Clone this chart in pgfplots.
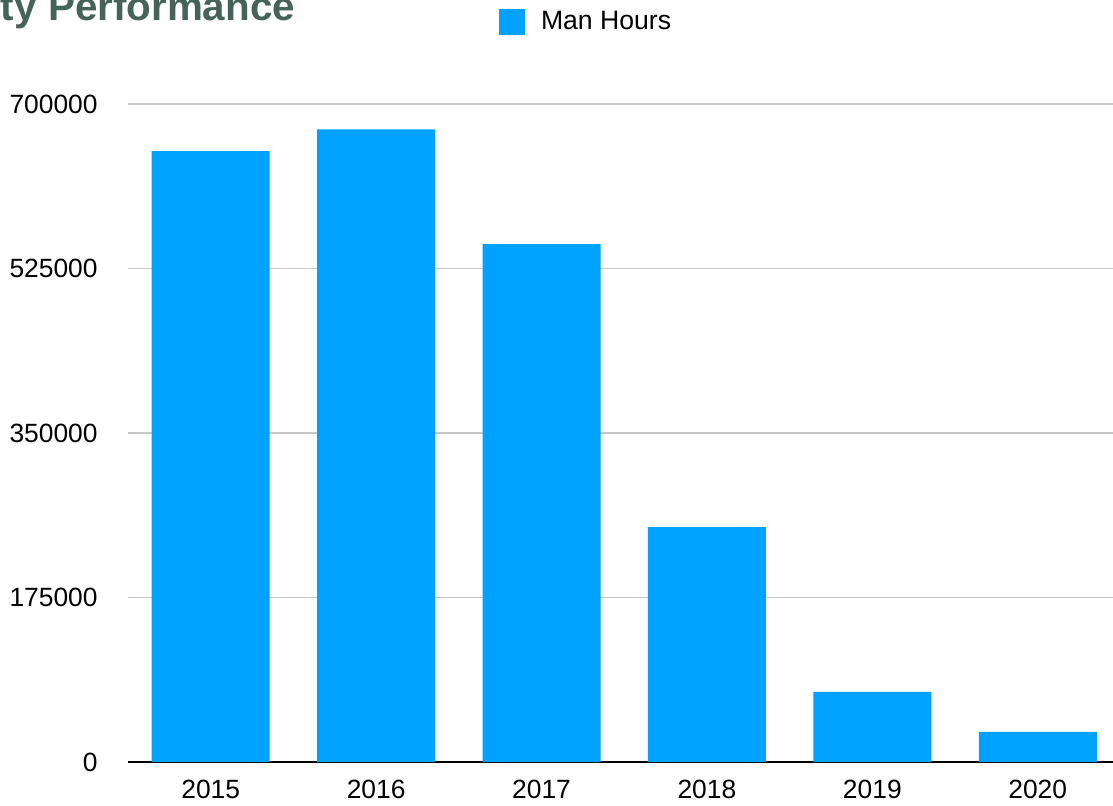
\documentclass[border=0pt]{standalone}
\usepackage{fontspec}
\setmainfont{Liberation Sans}
\usepackage{pgfplots}
\pgfplotsset{compat=1.18}

\definecolor{barblue}{RGB}{0,162,255}
\definecolor{titlecol}{RGB}{70,99,90}
\definecolor{gridgray}{RGB}{200,200,200}

\begin{document}
\begin{tikzpicture}
\begin{axis}[
	scale only axis,
	width=492.5pt,
	height=329pt,
	ybar,
	bar width=59pt,
	xmin=-0.5, xmax=5.455,
	ymin=0, ymax=700000,
	xtick=data,
	xticklabels={2015,2016,2017,2018,2019,2020},
	ytick={0,175000,350000,525000,700000},
	scaled y ticks=false,
	axis x line*=bottom,
	axis y line*=left,
	y axis line style={draw=none},
	x axis line style={line width=1.2pt, black},
	major tick length=0pt,
	ymajorgrids,
	grid style={gridgray, line width=0.6pt},
	clip=false,
	font=\fontsize{13.2pt}{15pt}\selectfont,
	/pgf/number format/assume math mode=true,
	/pgf/number format/.cd, fixed, 1000 sep={},
	/pgfplots/.cd,
	yticklabel style={anchor=east, inner sep=0pt, xshift=-15pt},
	xticklabel style={anchor=north, inner sep=0pt, yshift=-9pt},
	legend style={draw=none, fill=none, inner sep=0pt, outer sep=0pt,
		at={(0.3767,1.1254)}, anchor=west, column sep=8pt,
		nodes={inner sep=0pt},
		font=\fontsize{13.3pt}{15pt}\selectfont},
	legend image code/.code={\fill[barblue] (0pt,-6.5pt) rectangle (13pt,6.5pt);},
]
\addplot[fill=barblue, draw=none] coordinates {
	(0, 650000) (1, 673000) (2, 551000) (3, 250000) (4, 74500) (5, 32000)
};
\addlegendentry{Man Hours}
\end{axis}
\node[anchor=base west, inner sep=0pt, text=titlecol,
	font=\fontsize{20.2pt}{24pt}\selectfont\bfseries] at (-63.7pt,370.5pt) {ty Performance};
\pgfresetboundingbox
\path[use as bounding box] (-64pt,-21.5pt) rectangle (492.5pt,381pt);
\end{tikzpicture}
\end{document}
